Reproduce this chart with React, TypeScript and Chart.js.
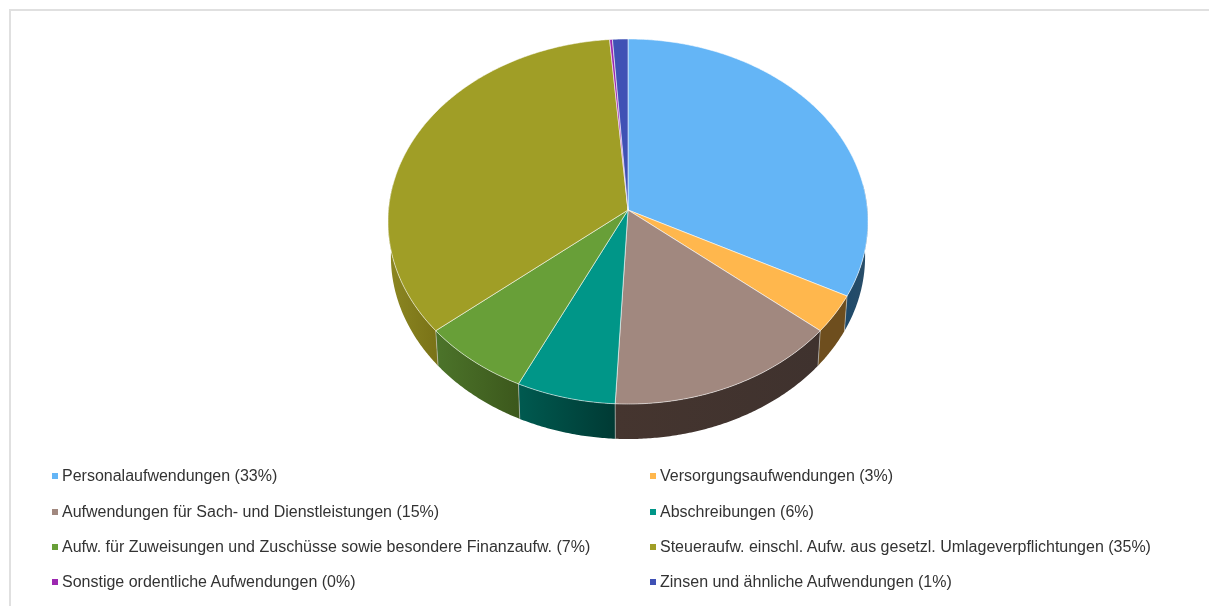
import React, { useEffect, useRef } from "react";
import { Chart, registerables } from "chart.js";

Chart.register(...registerables);

const labels = [
  "Personalaufwendungen",
  "Versorgungsaufwendungen",
  "Aufwendungen für Sach- und Dienstleistungen",
  "Abschreibungen",
  "Aufw. für Zuweisungen und Zuschüsse sowie besondere Finanzaufw.",
  "Steueraufw. einschl. Aufw. aus gesetzl. Umlageverpflichtungen",
  "Sonstige ordentliche Aufwendungen",
  "Zinsen und ähnliche Aufwendungen",
];
const values = [32.6, 3.4, 14.8, 6.3, 6.9, 34.7, 0.2, 1.1];
const colors = ["#64B5F6", "#FFB74D", "#A1887F", "#009688", "#689F38", "#A09E26", "#9C27B0", "#3F51B5"];
const wallLeft = ["#1f4a6a", "#6e4e1e", "#45352f", "#005a50", "#4c742a", "#8c8722", "#4e1458", "#20295a"];
const wallRight = ["#2a4e68", "#6e4e1e", "#3f322e", "#003a34", "#3c581c", "#7a7317", "#4e1458", "#20295a"];

const total = values.reduce((a, b) => a + b, 0);
const legendRows = [476, 511.5, 547, 582];
const legendCols = [52, 650];

const persp = -0.063;
const sx = 239.5 / 210;
const sy = 181.8 / 210;
const depth = 35;
const bottomShrink = 0.988;
const D2R = Math.PI / 180;

const pie3d = {
  id: "pie3d",
  beforeDatasetsDraw(chart: any) {
    const { ctx } = chart;
    const arcs = chart.getDatasetMeta(0).data;
    const first = arcs[0];
    const cx = first.x;
    const cy = first.y;
    const R = first.outerRadius;
    const pt = (a: number, bottom: boolean) => {
      const u = Math.cos(a);
      const v = Math.sin(a);
      const w = 1 + persp * v;
      const k = bottom ? bottomShrink : 1;
      return [cx + (R * sx * k * u) / w, cy + (R * sy * v) / w + (bottom ? depth : 0)];
    };
    const samples = (a0: number, a1: number) => {
      const n = Math.max(2, Math.ceil(Math.abs(a1 - a0) / (0.5 * D2R)));
      const out: number[] = [];
      for (let i = 0; i <= n; i++) out.push(a0 + ((a1 - a0) * i) / n);
      return out;
    };
    ctx.save();
    // side walls: only the part of each slice that faces the viewer
    const lo = -8 * D2R;
    const hi = 188 * D2R;
    arcs.forEach((arc: any, i: number) => {
      const a0 = Math.max(arc.startAngle, lo);
      const a1 = Math.min(arc.endAngle, hi);
      if (a1 <= a0) return;
      const s = samples(a0, a1);
      const xs = s.map((a) => pt(a, false)[0]);
      const g = ctx.createLinearGradient(Math.min(...xs), 0, Math.max(...xs) + 0.01, 0);
      g.addColorStop(0, wallLeft[i]);
      g.addColorStop(1, wallRight[i]);
      ctx.beginPath();
      s.forEach((a, j) => {
        const p = pt(a, false);
        if (j === 0) ctx.moveTo(p[0], p[1]);
        else ctx.lineTo(p[0], p[1]);
      });
      [...s].reverse().forEach((a) => {
        const p = pt(a, true);
        ctx.lineTo(p[0], p[1]);
      });
      ctx.closePath();
      ctx.fillStyle = g;
      ctx.fill();
    });
    // wall seams
    arcs.forEach((arc: any) => {
      const a = arc.startAngle;
      if (Math.sin(a) < 0.25) return;
      const t = pt(a, false);
      const b = pt(a, true);
      ctx.beginPath();
      ctx.moveTo(t[0], t[1]);
      ctx.lineTo(b[0], b[1]);
      ctx.strokeStyle = "rgba(200,200,195,0.6)";
      ctx.lineWidth = 1;
      ctx.stroke();
    });
    // top faces
    arcs.forEach((arc: any) => {
      ctx.beginPath();
      ctx.moveTo(cx, cy);
      samples(arc.startAngle, arc.endAngle).forEach((a) => {
        const p = pt(a, false);
        ctx.lineTo(p[0], p[1]);
      });
      ctx.closePath();
      ctx.fillStyle = arc.options.backgroundColor;
      ctx.fill();
      ctx.strokeStyle = "rgba(255,255,255,0.55)";
      ctx.lineWidth = 1;
      ctx.stroke();
    });
    ctx.restore();
    return false;
  },
};

export default function App() {
  const ref = useRef<HTMLCanvasElement>(null);
  useEffect(() => {
    const chart = new Chart(ref.current!, {
      type: "pie",
      data: { labels, datasets: [{ data: values, backgroundColor: colors, borderWidth: 0 }] },
      options: {
        animation: false,
        responsive: false,
        layout: { padding: { left: 47, right: 0, top: 0, bottom: 186 } },
        plugins: { legend: { display: false }, tooltip: { enabled: false } },
      },
      plugins: [pie3d],
    } as any);
    return () => chart.destroy();
  }, []);

  return (
    <div style={{ position: "absolute", left: 0, top: 0, width: 1209, height: 606, overflow: "hidden", background: "#fff" }}>
      <canvas ref={ref} width={1209} height={606} style={{ position: "absolute", left: 0, top: 0, display: "block" }} />
      <div
        style={{
          position: "absolute",
          left: 9,
          top: 9,
          width: 1210,
          height: 610,
          borderLeft: "2px solid #e0e0e0",
          borderTop: "2px solid #e0e0e0",
          pointerEvents: "none",
        }}
      />
      {labels.map((label, i) => {
        const col = legendCols[i % 2];
        const row = legendRows[Math.floor(i / 2)];
        return (
          <React.Fragment key={label}>
            <div style={{ position: "absolute", left: col, top: row - 3, width: 6, height: 6, background: colors[i] }} />
            <div
              style={{
                position: "absolute",
                left: col + 10,
                top: row - 10,
                height: 20,
                lineHeight: "20px",
                whiteSpace: "nowrap",
                fontFamily: '"Liberation Sans", Arial, sans-serif',
                fontSize: 16,
                color: "#333333",
              }}
            >
              {`${label} (${Math.round((values[i] / total) * 100)}%)`}
            </div>
          </React.Fragment>
        );
      })}
    </div>
  );
}
